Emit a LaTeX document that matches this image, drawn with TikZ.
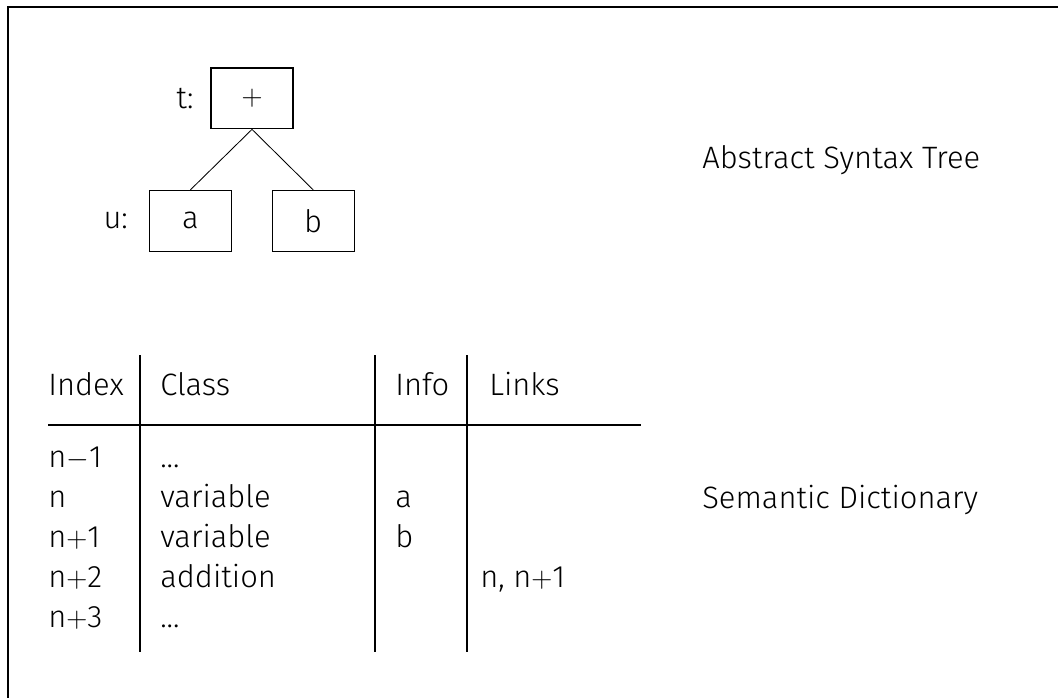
\documentclass[tikz,border=0pt]{standalone}
\usepackage{fontspec}
\setmainfont{Fira Sans}[UprightFont=* Light]
\usepackage{tikz}

\begin{document}
\begin{tikzpicture}[
		treebox/.style={draw, rectangle, line width=0.8pt, minimum width=2.05cm, minimum height=1.52cm, inner sep=0pt},
		cell/.style={anchor=base west, inner sep=0pt},
		rule/.style={line width=0.8pt},
		font=\fontsize{22}{26}\selectfont]
			\useasboundingbox (0, 0) rectangle (26.45, -17.45);
			\draw[line width=1.1pt] (26.45, -0.175) -- (0.2, -0.175) -- (0.2, -17.45);

			\draw (6.3, -2.46) 	node[treebox, label={[label distance=0.3cm]left:t:}] 	(plus) 		{$+$};
			\draw (4.76, -5.52) 	node[treebox, label={[label distance=0.4cm]left:u:}] 	(a) 		{a};
			\draw (7.83, -5.52) 	node[treebox] 						(b) 		{b};

			\draw[line width=0.6pt] (plus.south) -- (a.north);
			\draw[line width=0.6pt] (plus.south) -- (b.north);

			\draw (17.55, -4.2) 	node[cell] 	(ast) 		{Abstract Syntax Tree};
			\draw (17.55, -12.7) 	node[cell] 	(dict) 		{Semantic Dictionary};

			\draw (1.2, -9.875) 	node[cell] 	(hindex) 	{Index};
			\draw (4.0, -9.875) 	node[cell] 	(hclass) 	{Class};
			\draw (9.875, -9.875) 	node[cell] 	(hinfo) 	{Info};
			\draw (12.225, -9.875) 	node[cell] 	(hlinks) 	{Links};

			\draw (1.2, -11.675) 	node[cell] 	(i1) 		{n$-$1};
			\draw (1.2, -12.675) 	node[cell] 	(i2) 		{n};
			\draw (1.2, -13.675) 	node[cell] 	(i3) 		{n$+$1};
			\draw (1.2, -14.675) 	node[cell] 	(i4) 		{n$+$2};
			\draw (1.2, -15.675) 	node[cell] 	(i5) 		{n$+$3};

			\draw (4.0, -11.675) 	node[cell] 	(c1) 		{...};
			\draw (4.0, -12.675) 	node[cell] 	(c2) 		{variable};
			\draw (4.0, -13.675) 	node[cell] 	(c3) 		{variable};
			\draw (4.0, -14.675) 	node[cell] 	(c4) 		{addition};
			\draw (4.0, -15.675) 	node[cell] 	(c5) 		{...};

			\draw (9.875, -12.675) 	node[cell] 	(f2) 		{a};
			\draw (9.875, -13.675) 	node[cell] 	(f3) 		{b};
			\draw (12.0, -14.675) 	node[cell] 	(l4) 		{n, n$+$1};

			\draw[rule] (1.2, -10.625) -- (16.025, -10.625);
			\draw[rule] (3.5, -8.875) -- (3.5, -16.3);
			\draw[rule] (9.375, -8.875) -- (9.375, -16.3);
			\draw[rule] (11.675, -8.875) -- (11.675, -16.3);
		\end{tikzpicture}
\end{document}
